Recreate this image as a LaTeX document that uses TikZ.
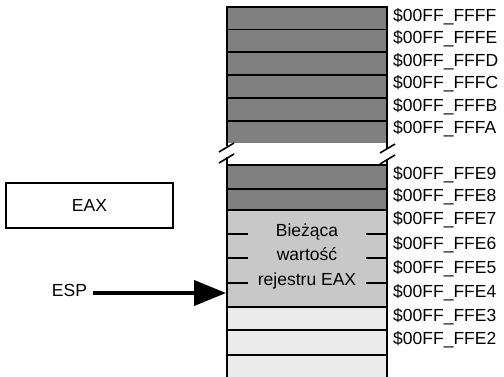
\documentclass[tikz,border=0pt]{standalone}
\usepackage{fontspec}
\setmainfont{Liberation Sans}
\usetikzlibrary{positioning,arrows.meta}
\definecolor{celldark}{RGB}{128,128,128}
\definecolor{cellmid}{RGB}{200,200,200}
\definecolor{celllight}{RGB}{235,235,235}
\tikzset{
  txt/.style={inner sep=0pt, font=\fontsize{17.5}{17.5}\selectfont},
  addr/.style={txt, anchor=mid west},
  regbox/.style={draw, line width=1.5pt, minimum width=167pt, minimum height=45pt,
                 txt},
  cellline/.style={line width=1.6pt},
  ptr/.style={-{Triangle[length=32pt,width=25pt]}, line width=4pt}
}

\begin{document}
\begin{tikzpicture}[x=1pt,y=-1pt]
    \useasboundingbox (0,0) rectangle (504,377);
    % stack cells
    \foreach \ytop/\ybot/\col in {7/29.5/celldark, 29.5/52/celldark, 52/75/celldark,
        75/98/celldark, 98/121/celldark, 121/143/celldark, 165/189/celldark,
        189/210/celldark, 210/307/cellmid, 307/330/celllight, 330/355/celllight,
        355/377/celllight}
      \fill[\col] (227,\ytop) rectangle (387,\ybot);
    \foreach \y in {7,29.5,52,75,98,121,165,189,210,307,330,355}
      \draw[cellline] (227,\y) -- (387,\y);
    \draw[cellline] (227,6.2) -- (227,146) (227,157) -- (227,377);
    \draw[cellline] (387,6.2) -- (387,148) (387,159) -- (387,377);
    % break marks
    \draw[cellline] (219,152) -- (234,143) (219,163) -- (234,154);
    \draw[cellline] (380,153) -- (395,144) (380,164) -- (395,155);
    % ticks inside the EAX value
    \foreach \y in {234,258,283}
      \draw[cellline] (227,\y) -- (248,\y) (366,\y) -- (387,\y);
    \foreach \t/\y [count=\i] in {Bieżąca/234, wartość/258, rejestru EAX/283}
      \node[txt, anchor=mid] (val\i) at (307,\y) {\t};
    % addresses
    \foreach \lab/\y in {FFFF/18.5, FFFE/41, FFFD/63.5, FFFC/86, FFFB/108.5,
        FFFA/131, FFE9/177, FFE8/199, FFE7/222, FFE6/247, FFE5/271, FFE4/295,
        FFE3/319, FFE2/342}
      \node[addr] (a\lab) at (393,\y) {\$00FF\_\lab};
    % registers
    \node[regbox] (eax) at (89.5,205.5) {EAX};
    \node[txt] (esp) at (69.5,290.5) {ESP};
    \coordinate (sptop) at (226,293);
    \draw[ptr] ([xshift=6pt]esp.east |- sptop) -- (sptop);
  \end{tikzpicture}
\end{document}
